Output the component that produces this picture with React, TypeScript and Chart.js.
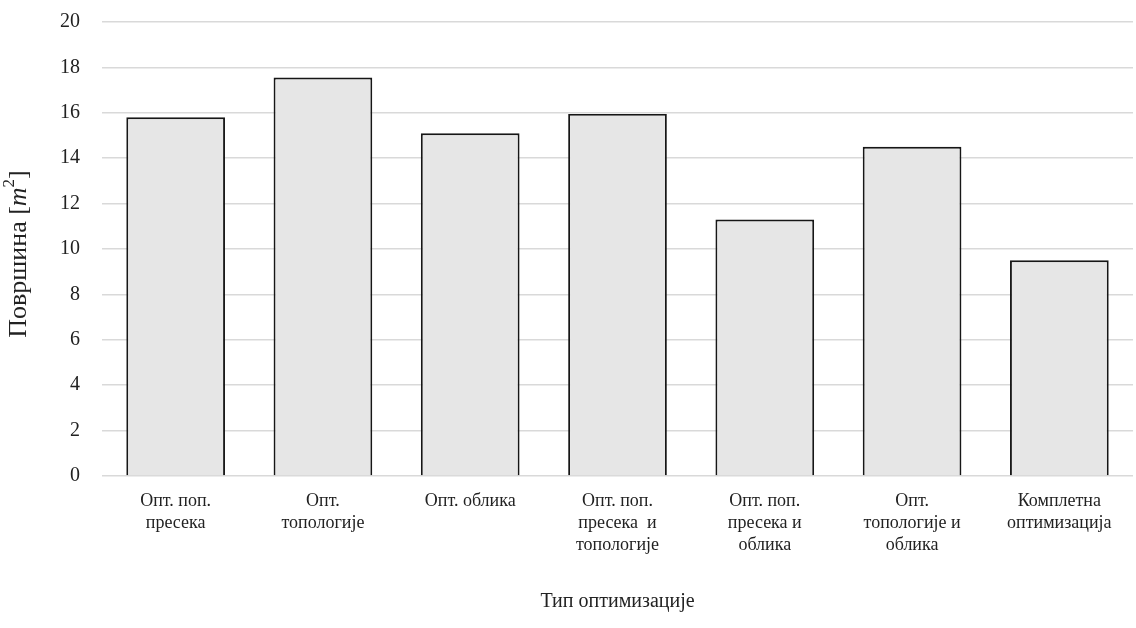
import React, { useEffect, useRef } from "react";
import { Chart, registerables } from "chart.js";

Chart.register(...registerables);

const categories: string[][] = [
  ["Опт. поп.", "пресека"],
  ["Опт.", "топологије"],
  ["Опт. облика"],
  ["Опт. поп.", "пресека  и", "топологије"],
  ["Опт. поп.", "пресека и", "облика"],
  ["Опт.", "топологије и", "облика"],
  ["Комплетна", "оптимизација"],
];
const areaValues: number[] = [15.8, 17.55, 15.1, 15.95, 11.3, 14.5, 9.5];
const yTicks: number[] = [0, 2, 4, 6, 8, 10, 12, 14, 16, 18, 20];
const xTitle = "Тип оптимизације";
const yTitleParts: string[] = ["Површина [", "m", "2", "]"];

const FONT = "'Liberation Serif', 'Times New Roman', serif";

const yTitlePlugin = {
  id: "yTitlePlugin",
  afterDraw(chart: any) {
    const ctx = chart.ctx as CanvasRenderingContext2D;
    const area = chart.chartArea;
    const cy = (area.top + area.bottom) / 2 + 5;
    const cx = 19;
    const size = 26;
    const segs = [
      { t: yTitleParts[0], f: `${size}px ${FONT}`, dy: 0 },
      { t: yTitleParts[1], f: `italic ${size}px ${FONT}`, dy: 0 },
      { t: yTitleParts[2], f: `${Math.round(size * 0.65)}px ${FONT}`, dy: -size * 0.36 },
      { t: yTitleParts[3], f: `${size}px ${FONT}`, dy: 0 },
    ];
    ctx.save();
    ctx.translate(cx, cy);
    ctx.rotate(-Math.PI / 2);
    ctx.fillStyle = "#222";
    ctx.textBaseline = "middle";
    ctx.textAlign = "left";
    let total = 0;
    const widths = segs.map((s) => {
      ctx.font = s.f;
      const w = ctx.measureText(s.t).width;
      total += w;
      return w;
    });
    let x = -total / 2;
    segs.forEach((s, i) => {
      ctx.font = s.f;
      ctx.fillText(s.t, x, s.dy);
      x += widths[i];
    });
    ctx.restore();
  },
};

export default function App() {
  const ref = useRef<HTMLCanvasElement | null>(null);

  useEffect(() => {
    if (!ref.current) return;
    const chart = new Chart(ref.current, {
      type: "bar",
      data: {
        labels: categories,
        datasets: [
          {
            data: areaValues,
            backgroundColor: "#e6e6e6",
            borderColor: "#161616",
            borderWidth: 1.9,
            barPercentage: 0.67,
            categoryPercentage: 1,
          },
        ],
      },
      options: {
        animation: false,
        responsive: true,
        maintainAspectRatio: false,
        layout: { padding: { top: 22, right: 3, left: 0, bottom: 0 } },
        plugins: {
          legend: { display: false },
          tooltip: { enabled: false },
        },
        scales: {
          x: {
            grid: { display: false, drawTicks: false },
            border: { display: false },
            ticks: {
              color: "#222",
              font: { family: FONT, size: 18, lineHeight: 1.22 },
              padding: 14,
              maxRotation: 0,
              autoSkip: false,
            },
            title: {
              display: true,
              text: xTitle,
              color: "#222",
              font: { family: FONT, size: 20, lineHeight: 1.2 },
              padding: { top: 0, bottom: 14 },
            },
            afterFit: (s: any) => {
              s.height = 152;
              s.paddingLeft = 0;
              s.paddingRight = 0;
            },
          },
          y: {
            min: 0,
            max: 20,
            afterBuildTicks: (s: any) => {
              s.ticks = yTicks.map((v) => ({ value: v }));
            },
            grid: { color: "#d9d9d9", lineWidth: 1.5, drawTicks: false },
            border: { display: false },
            ticks: {
              color: "#222",
              font: { family: FONT, size: 20 },
              padding: 22,
            },
            afterFit: (s: any) => {
              s.width = 102;
              s.paddingTop = 0;
              s.paddingBottom = 0;
            },
          },
        },
      },
      plugins: [yTitlePlugin],
    });
    return () => chart.destroy();
  }, []);

  return (
    <div style={{ position: "fixed", left: 0, top: 0, width: 1136, height: 628, background: "#fff" }}>
      <canvas ref={ref} />
    </div>
  );
}
